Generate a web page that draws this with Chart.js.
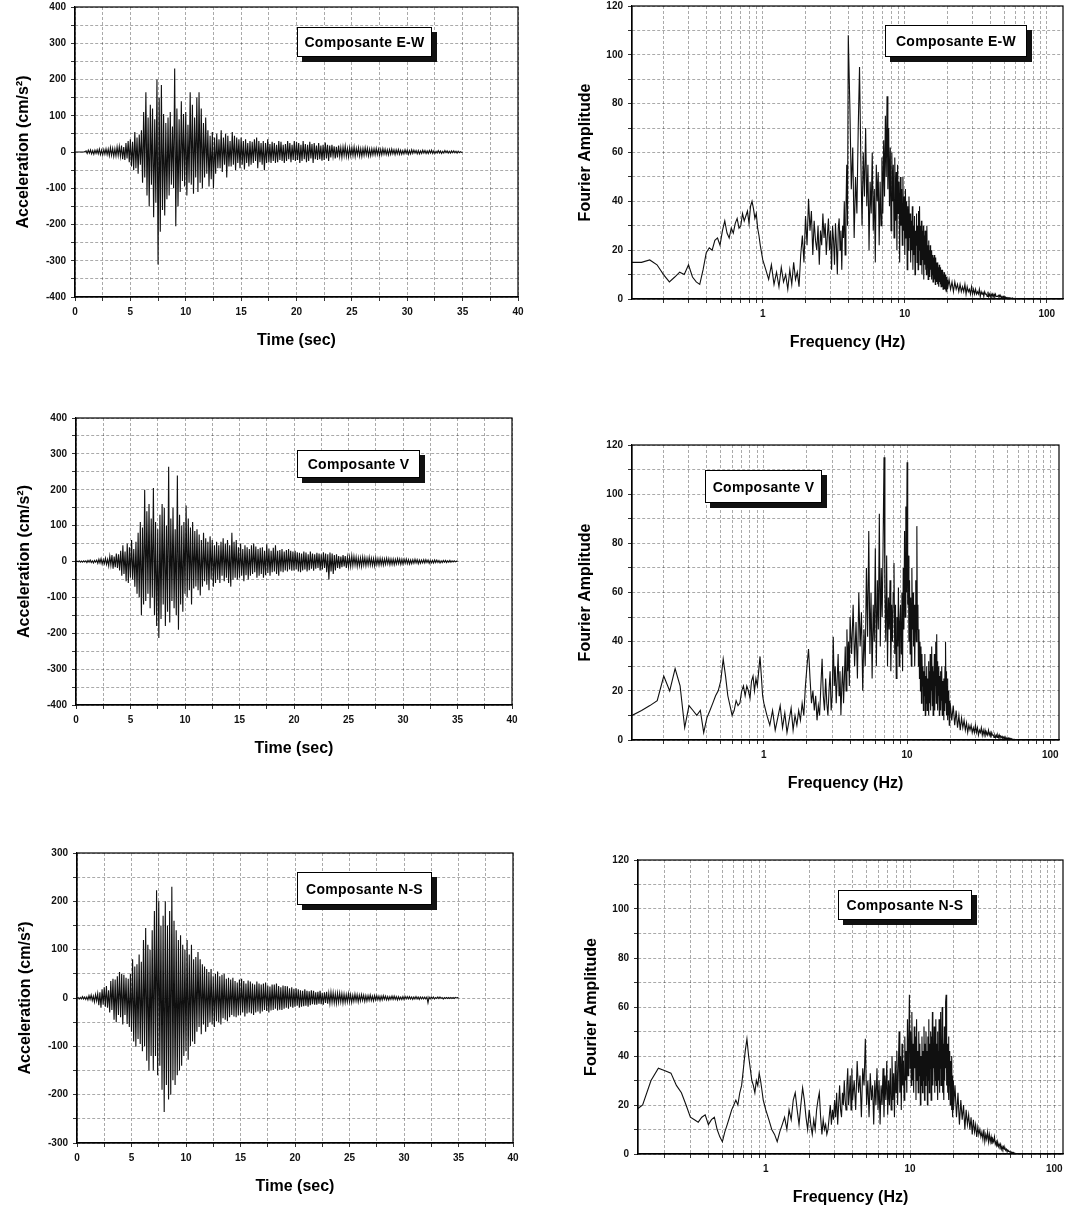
<!DOCTYPE html>
<html>
<head>
<meta charset="utf-8">
<script src="https://cdn.jsdelivr.net/npm/chart.js@4.4.1/dist/chart.umd.min.js"></script>
<style>
  body { margin: 0; background: #fff; width: 1069px; height: 1206px; position: relative; overflow: hidden; }
  canvas { position: absolute; }
  .tag {
    position: absolute; box-sizing: border-box; background: #fff;
    border: 1.5px solid #000; box-shadow: 5px 5px 0 #111;
    display: flex; align-items: center; justify-content: center;
    font: bold 14px "Liberation Sans", Arial, sans-serif; letter-spacing: 0.3px; color: #000;
  }
</style>
</head>
<body>
<canvas id="ewTime"></canvas>
<canvas id="ewFreq"></canvas>
<canvas id="vTime"></canvas>
<canvas id="vFreq"></canvas>
<canvas id="nsTime"></canvas>
<canvas id="nsFreq"></canvas>
<script>
// accelerograms, one sample every SAMPLE_DT seconds from t = 0 to 35 s (cm/s2)
const SAMPLE_DT = 0.1;

const accelEW = [
  0,0,0,0,0,0,0,0,0,1,
  3,-4,5,-3,6,-5,4,-6,5,-4,
  6,-5,8,-7,5,-8,7,-6,9,-7,
  8,-10,12,-9,10,-12,9,-11,14,-10,
  15,-12,18,-20,14,-22,25,-18,30,-28,
  35,-40,28,-50,55,-45,40,-60,48,-35,
  60,-85,110,-70,165,-120,95,-150,130,-90,
  120,-180,90,-140,200,-310,150,-220,185,-160,
  105,-175,80,-130,95,-120,110,-90,70,-100,
  230,-205,120,-150,90,-110,140,-80,105,-95,
  110,-120,75,-85,165,-90,130,-115,95,-70,
  150,-110,165,-85,120,-100,80,-70,95,-60,
  60,-95,45,-75,55,-100,40,-60,50,-45,
  35,-45,60,-55,40,-35,50,-70,45,-40,
  30,-40,55,-35,45,-50,40,-30,35,-45,
  40,-35,30,-48,35,-30,25,-40,30,-35,
  28,-30,35,-25,40,-45,30,-28,25,-35,
  30,-50,25,-30,35,-28,22,-30,28,-25,
  25,-30,20,-28,30,-22,28,-25,20,-30,
  22,-25,30,-20,25,-28,20,-22,30,-25,
  28,-22,25,-30,20,-25,30,-20,22,-28,
  20,-25,28,-18,22,-30,25,-20,18,-22,
  25,-20,18,-24,20,-22,26,-18,20,-25,
  18,-15,20,-12,16,-18,14,-15,18,-12,
  12,-15,14,-10,16,-12,10,-14,12,-10,
  12,-10,14,-12,10,-8,12,-11,9,-12,
  10,-9,12,-8,10,-11,8,-10,9,-8,
  9,-8,10,-7,8,-9,7,-8,9,-6,
  8,-7,6,-8,7,-6,8,-5,6,-7,
  6,-5,7,-6,5,-6,4,-5,6,-4,
  5,-6,4,-5,6,-4,5,-3,4,-5,
  4,-5,3,-4,5,-3,4,-4,3,-4,
  4,-3,5,-4,3,-4,2,-3,4,-3,
  3,-4,2,-3,4,-2,3,-3,2,-3,
  3,-2,3,-2,2,-3,2,-2,1,-1,
  0
];

const accelV = [
  0,1,-1,2,-2,1,-2,2,-1,2,
  -3,3,-2,4,-3,2,-4,3,-2,4,
  -5,6,-4,8,-7,5,-6,9,-8,6,
  -12,15,-10,18,-20,14,-16,22,-18,20,
  -25,30,-40,45,-35,28,-55,50,-60,40,
  -45,60,-50,35,-70,55,-90,80,-100,110,
  -150,95,-120,200,-110,140,-90,160,-130,120,
  -100,205,-150,110,-180,90,-213,130,-160,160,
  -120,150,-180,100,-140,264,-170,120,-110,150,
  -130,90,-150,240,-190,130,-120,100,-140,110,
  -90,156,-100,120,-80,95,-120,110,-75,85,
  -70,90,-80,75,-95,60,-70,80,-55,65,
  -65,55,-80,70,-50,60,-70,45,-60,55,
  -50,45,-60,55,-40,65,-55,50,-45,60,
  -60,45,-70,80,-50,55,-45,60,-50,40,
  -45,50,-40,35,-55,45,-38,40,-50,35,
  -40,45,-35,50,-30,42,-45,35,-40,38,
  -35,40,-45,30,-38,48,-32,36,-40,30,
  -30,38,-28,45,-35,30,-40,32,-28,35,
  -30,28,-25,32,-28,35,-22,30,-26,28,
  -25,30,-22,26,-28,24,-30,22,-25,28,
  -22,25,-28,20,-24,28,-20,22,-26,20,
  -20,24,-18,22,-25,20,-22,26,-18,22,
  -30,20,-50,25,-28,22,-35,18,-25,20,
  -18,15,-20,14,-16,18,-14,15,-18,12,
  -15,12,-14,16,-12,14,-10,12,-14,10,
  -12,10,-14,12,-10,11,-12,9,-10,12,
  -10,9,-11,8,-12,10,-9,8,-10,9,
  -9,8,-10,7,-8,9,-7,8,-9,7,
  -8,7,-9,6,-7,8,-6,7,-8,6,
  -7,6,-5,7,-6,5,-7,4,-6,5,
  -5,6,-4,5,-6,4,-5,4,-4,5,
  -4,5,-3,4,-5,3,-4,3,-4,4,
  -3,4,-3,3,-4,2,-3,3,-2,3,
  -3,2,-2,3,-2,2,-1,2,-1,1,
  0
];

const accelNS = [
  0,1,-2,1,-2,3,-2,2,-3,2,
  -4,5,-3,6,-5,4,-8,7,-6,9,
  -15,12,-20,18,-14,22,-18,25,-20,16,
  -30,35,-25,40,-45,38,-50,45,-35,54,
  -40,50,-55,48,-35,42,-54,40,-60,50,
  -70,80,-90,65,-101,70,-85,90,-95,75,
  -110,120,-100,145,-130,110,-150,100,-120,140,
  -150,180,-120,223,-160,200,-140,150,-190,170,
  -236,200,-180,150,-210,180,-200,230,-170,160,
  -180,140,-160,120,-150,130,-140,110,-120,100,
  -110,120,-128,90,-100,110,-90,80,-95,85,
  -70,95,-60,80,-75,70,-55,65,-70,60,
  -60,54,-50,60,-55,45,-60,50,-48,55,
  -50,45,-55,48,-42,50,-45,40,-48,42,
  -40,38,-35,42,-38,35,-40,32,-36,38,
  -35,40,-30,35,-38,30,-32,36,-30,34,
  -32,30,-35,28,-30,34,-28,30,-32,28,
  -28,30,-25,32,-27,26,-30,24,-26,28,
  -25,28,-22,30,-26,25,-24,22,-25,26,
  -22,25,-20,24,-22,20,-18,22,-20,19,
  -18,20,-16,18,-20,16,-18,15,-17,18,
  -16,15,-18,14,-15,16,-13,15,-14,12,
  -14,13,-12,15,-13,11,-14,12,-10,13,
  -12,10,-11,12,-9,11,-10,9,-11,10,
  -9,10,-8,9,-10,8,-9,7,-8,9,
  -8,7,-9,6,-7,8,-6,7,-8,6,
  -6,7,-5,6,-7,5,-6,5,-5,6,
  -5,4,-6,5,-4,5,-4,4,-5,4,
  -4,5,-3,4,-4,3,-4,3,-3,4,
  -3,4,-3,3,-4,3,-3,2,-3,3,
  -3,3,-2,3,-2,3,-2,2,-3,2,
  -2,3,-2,2,-3,2,-2,2,-2,2,
  -2,2,-10,2,-2,2,-1,2,-2,1,
  -1,2,-1,2,-1,1,-2,1,-1,1,
  -1,1,-1,1,-1,1,-1,1,0,1,
  0
];

// FFT frequency bands [from, to, step] in Hz shared by the three spectra
const freqBands = [[0.12, 1.0, 0.02], [1.05, 4.0, 0.05], [4.1, 20.0, 0.1], [20.5, 60.0, 0.5]];

const specEW = [
  // 0.12 - 1.00 Hz
  15,15,16,14,10,7,9,11,10,14, 9,7,6,12,19,21,20,24,25,22,
  28,32,27,25,29,27,31,33,29,30, 35,32,34,36,31,38,40,37,33,35, 29,26,22,19,16,
  // 1.05 - 4.00 Hz
  12,8,14,6,11,5,13,7,10,4, 12,6,15,8,11,5,18,26,15,34,
  22,41,28,36,18,32,24,20,30,14, 28,22,35,25,31,18,26,33,20,28,
  12,30,24,14,31,22,10,29,33,20, 28,12,30,25,40,18,35,55,30,108,
  // 4.1 - 20.0 Hz
  80,45,62,25,50,35,70,95,58,30, 60,42,70,38,55,20,48,35,60,28,
  45,15,55,40,52,22,48,30,58,35, 65,42,75,50,83,45,70,38,62,28,
  60,40,55,25,58,32,52,20,55,35, 48,15,50,30,45,22,50,28,42,18,
  45,25,40,12,38,20,42,25,35,15, 32,20,38,12,30,18,34,10,28,22,
  35,15,30,12,36,20,38,14,30,18, 32,10,28,16,30,8,26,14,28,12,
  25,10,30,15,22,8,24,12,20,9, 22,12,19,8,20,10,18,7,17,9,
  18,8,16,6,17,9,15,7,14,6, 15,8,13,5,14,7,12,6,13,5,
  12,6,11,5,12,4,10,6,11,4, 10,5,9,4,10,5,9,3,8,4,
  // 20.5 - 60 Hz
  8,4,7,3,7,4,6,3,6,3, 5,3,6,2,5,3,4,2,5,2,
  4,2,4,2,3,2,4,1,3,2, 3,1,3,2,2,1,3,1,2,1,
  2,1,2,1,2,1,2,1,1,1, 1.5,1,1.5,0.8,1.2,0.6,1,0.5,1,0.5,
  0.8,0.4,0.7,0.4,0.6,0.3,0.5,0.3,0.5,0.2, 0.4,0.2,0.3,0.2,0.3,0.1,0.2,0.1,0.2,0.1
];

const specV = [
  // 0.12 - 1.00 Hz
  10,12,14,16,26,20,29,22,5,14, 12,10,12,3,9,12,15,18,20,24,
  33,26,18,14,10,12,16,14,15,20, 22,18,22,20,17,24,26,20,25,22, 28,34,26,18,15,
  // 1.05 - 4.00 Hz
  10,6,12,4,9,14,5,11,3,8, 13,4,10,6,12,8,15,10,22,30,
  37,25,15,20,12,18,8,14,10,22, 33,18,12,25,15,10,20,28,12,18,
  42,22,30,15,25,35,18,28,10,22, 30,15,25,38,20,45,28,40,22,50,
  // 4.1 - 20.0 Hz
  35,55,30,48,25,60,38,52,20,45, 30,70,42,85,35,60,25,55,40,78,
  30,65,45,92,38,70,50,80,115,60, 40,75,30,58,45,65,28,55,40,60,
  72,35,55,25,50,38,62,30,48,55, 35,60,28,70,45,85,50,95,60,113,
  55,75,40,65,35,58,30,70,45,60, 38,55,30,48,65,40,87,45,55,30,
  45,25,40,20,38,15,35,22,30,12, 28,18,35,10,26,15,30,12,25,18,
  32,10,28,15,35,12,30,20,38,14, 30,10,28,18,35,12,30,22,40,15,
  43,20,32,12,28,18,30,10,26,15, 28,12,25,16,30,10,24,14,22,8,
  25,12,20,30,15,40,18,28,10,22, 12,25,8,20,10,18,6,16,8,15,
  // 20.5 - 60 Hz
  8,14,6,12,5,10,4,9,5,8, 4,7,3,6,4,6,3,5,3,6,
  3,5,2,4,3,5,2,4,2,4, 2,3,2,4,2,3,1,3,2,2,
  1,2,1,2,1,2,1,2,1,1.5, 1,1.5,0.8,1.2,0.6,1,0.5,1,0.5,0.8,
  0.5,0.8,0.4,0.6,0.3,0.5,0.3,0.4,0.2,0.3, 0.2,0.3,0.2,0.2,0.1,0.2,0.1,0.1,0,0
];

const specNS = [
  // 0.12 - 1.00 Hz
  17,20,30,35,34,33,28,25,20,15, 14,13,15,16,12,14,15,10,7,5,
  9,12,15,18,20,22,20,25,28,35, 42,47,40,35,30,28,25,30,28,33, 30,26,22,20,18,
  // 1.05 - 4.00 Hz
  14,10,8,5,9,12,15,10,18,14, 22,25,18,12,20,27,22,15,10,18,
  12,8,14,10,18,22,25,15,8,14, 10,12,8,10,15,20,12,18,14,22,
  15,25,12,20,28,18,15,25,20,30, 22,18,28,35,20,25,32,18,35,22,
  // 4.1 - 20.0 Hz
  30,18,38,25,32,15,35,28,47,20, 30,15,33,22,28,12,30,20,35,18,
  30,12,28,20,35,15,32,22,38,16, 30,20,35,18,40,22,33,15,38,25,
  42,20,35,50,25,40,18,45,28,38, 22,48,30,42,25,55,32,45,65,35,
  50,28,58,30,45,25,52,35,48,22, 55,30,42,25,50,32,45,20,40,28,
  48,25,42,30,52,22,45,28,50,32, 42,20,48,30,55,25,45,35,50,22,
  48,30,58,28,45,35,52,25,48,30, 55,28,45,32,50,22,42,30,55,25,
  48,35,58,28,45,30,60,25,50,32, 45,22,52,30,48,35,62,65,40,28,
  45,25,40,30,48,22,38,28,42,20, 38,25,35,18,40,22,32,15,30,18,
  // 20.5 - 60 Hz
  28,15,25,12,22,14,20,10,18,12, 16,10,15,8,14,9,12,7,11,8,
  10,7,9,6,10,5,8,6,9,5, 8,5,7,4,6,5,7,4,5,3,
  5,3,4,3,4,2,3,2,3,2, 2.5,1.5,2,1.2,1.5,1,1.2,0.8,1,0.6,
  0.8,0.5,0.6,0.4,0.5,0.3,0.3,0.2,0.2,0.1, 0.1,0.1,0,0,0,0,0,0,0,0
];

// tick labels
const timeTickLabels = [0, 5, 10, 15, 20, 25, 30, 35, 40];
const accelTicks400 = [-400, -300, -200, -100, 0, 100, 200, 300, 400];
const accelTicks300 = [-300, -200, -100, 0, 100, 200, 300];
const ampTickLabels = [0, 20, 40, 60, 80, 100, 120];
const freqTickLabels = [1, 10, 100];

const fftFreqs = [];
freqBands.forEach(([f0, f1, df]) => {
  const n = Math.round((f1 - f0) / df);
  for (let i = 0; i <= n; i++) fftFreqs.push(+(f0 + i * df).toFixed(3));
});

const panels = [
  { id: 'ewTime', kind: 'time', values: accelEW, yTicks: accelTicks400,
    plot: { left: 75, top: 7, right: 518, bottom: 297 },
    tag: 'Composante E-W', tagBox: { left: 297, top: 27, width: 135, height: 30 } },
  { id: 'ewFreq', kind: 'freq', values: specEW, yTicks: ampTickLabels, fmin: 0.12, fmax: 130,
    plot: { left: 632, top: 6, right: 1063, bottom: 299 },
    tag: 'Composante E-W', tagBox: { left: 885, top: 25, width: 142, height: 32 } },
  { id: 'vTime', kind: 'time', values: accelV, yTicks: accelTicks400,
    plot: { left: 76, top: 418, right: 512, bottom: 705 },
    tag: 'Composante V', tagBox: { left: 297, top: 450, width: 123, height: 28 } },
  { id: 'vFreq', kind: 'freq', values: specV, yTicks: ampTickLabels, fmin: 0.12, fmax: 115,
    plot: { left: 632, top: 445, right: 1059, bottom: 740 },
    tag: 'Composante V', tagBox: { left: 705, top: 470, width: 117, height: 33 } },
  { id: 'nsTime', kind: 'time', values: accelNS, yTicks: accelTicks300,
    plot: { left: 77, top: 853, right: 513, bottom: 1143 },
    tag: 'Composante N-S', tagBox: { left: 297, top: 872, width: 135, height: 33 } },
  { id: 'nsFreq', kind: 'freq', values: specNS, yTicks: ampTickLabels, fmin: 0.13, fmax: 115,
    plot: { left: 638, top: 860, right: 1063, bottom: 1154 },
    tag: 'Composante N-S', tagBox: { left: 838, top: 890, width: 134, height: 30 } }
];

const PAD_TOP = 12, PAD_RIGHT = 12, X_AXIS_H = 55;
const FONT = '"Liberation Sans", Arial, sans-serif';
const tickFont = { family: FONT, size: 10, weight: 'bold' };
const titleFont = { family: FONT, size: 16, weight: 'bold' };
const gridOpts = { color: 'rgba(0,0,0,0.42)', lineWidth: 0.8, tickLength: 4, tickColor: '#000' };
const borderOpts = { color: '#000', width: 1.2, dash: [3, 2] };

// box round the plot area, as in the original Origin plots
const framePlugin = {
  id: 'frame',
  afterDraw(chart) {
    const { ctx, chartArea: a } = chart;
    ctx.save();
    ctx.strokeStyle = '#000';
    ctx.lineWidth = 1.2;
    ctx.strokeRect(a.left, a.top, a.right - a.left, a.bottom - a.top);
    ctx.restore();
  }
};

function logGrid(min, max) {
  const ticks = [];
  for (let k = -1; k <= 2; k++) {
    for (let m = 1; m <= 9; m++) {
      const v = parseFloat((m * Math.pow(10, k)).toFixed(6));
      if (v >= min && v <= max) ticks.push({ value: v });
    }
  }
  return ticks;
}

function makeChart(p) {
  const isTime = p.kind === 'time';
  const yW = isTime ? 75 : 70;
  const cx = p.plot.left - yW;
  const cy = p.plot.top - PAD_TOP;
  const canvas = document.getElementById(p.id);
  canvas.style.left = cx + 'px';
  canvas.style.top = cy + 'px';
  canvas.width = p.plot.right + PAD_RIGHT - cx;
  canvas.height = p.plot.bottom + X_AXIS_H - cy;

  const points = isTime
    ? p.values.map((v, i) => ({ x: +(i * SAMPLE_DT).toFixed(2), y: v }))
    : p.values.map((v, i) => ({ x: fftFreqs[i], y: v })).filter(d => d.x !== undefined);

  const xScale = isTime
    ? {
        type: 'linear', min: timeTickLabels[0], max: timeTickLabels[timeTickLabels.length - 1],
        ticks: { stepSize: 2.5, autoSkip: false, maxRotation: 0, padding: 5, color: '#111', font: tickFont,
                 callback: v => timeTickLabels.includes(v) ? String(v) : '' }
      }
    : {
        type: 'logarithmic', min: p.fmin, max: p.fmax,
        afterBuildTicks: s => { s.ticks = logGrid(s.min, s.max); },
        ticks: { autoSkip: false, maxRotation: 0, padding: 5, color: '#111', font: tickFont,
                 callback: v => freqTickLabels.includes(v) ? String(v) : '' }
      };

  Object.assign(xScale, {
    afterFit: s => { s.height = X_AXIS_H; },
    grid: gridOpts, border: borderOpts,
    title: { display: true, text: isTime ? 'Time (sec)' : 'Frequency (Hz)', color: '#000', font: titleFont,
             padding: { top: 4, bottom: 2 } }
  });

  const yTicks = p.yTicks;
  const yScale = {
    min: yTicks[0], max: yTicks[yTicks.length - 1],
    afterFit: s => { s.width = yW; },
    ticks: { stepSize: isTime ? 50 : 10, autoSkip: false, padding: 5, color: '#111', font: tickFont,
             callback: v => yTicks.includes(v) ? String(v) : '' },
    grid: gridOpts, border: borderOpts,
    title: { display: true, text: isTime ? 'Acceleration (cm/s²)' : 'Fourier Amplitude', color: '#000',
             font: titleFont, padding: { top: 14, bottom: 0 } }
  };

  new Chart(canvas, {
    type: 'line',
    data: {
      datasets: [{
        data: points,
        borderColor: '#101010',
        borderWidth: 1.1,
        pointRadius: 0,
        tension: 0,
        fill: false
      }]
    },
    options: {
      responsive: false,
      animation: false,
      devicePixelRatio: 1,
      events: [],
      layout: { padding: { top: PAD_TOP, right: PAD_RIGHT, left: 0, bottom: 0 } },
      plugins: { legend: { display: false }, tooltip: { enabled: false } },
      scales: { x: xScale, y: yScale }
    },
    plugins: [framePlugin]
  });

  const tag = document.createElement('div');
  tag.className = 'tag';
  tag.textContent = p.tag;
  tag.style.left = p.tagBox.left + 'px';
  tag.style.top = p.tagBox.top + 'px';
  tag.style.width = p.tagBox.width + 'px';
  tag.style.height = p.tagBox.height + 'px';
  document.body.appendChild(tag);
}

panels.forEach(makeChart);
</script>
</body>
</html>
